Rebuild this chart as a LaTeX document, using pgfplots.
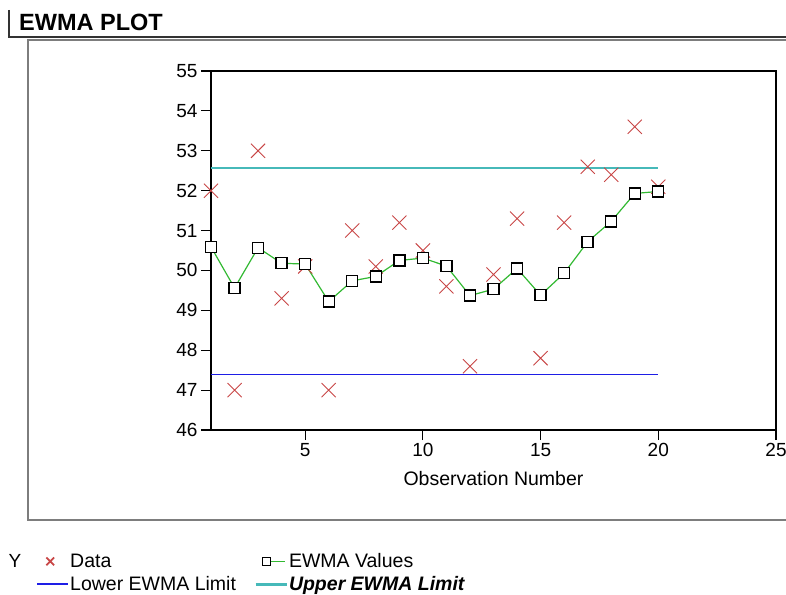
\documentclass[border=0pt]{standalone}
\usepackage{fontspec}
\setmainfont{Liberation Sans}
\usepackage{pgfplots}
\pgfplotsset{compat=1.18}
\definecolor{datared}{RGB}{200,70,70}
\definecolor{ewgreen}{RGB}{50,185,50}
\definecolor{ucyan}{RGB}{70,185,185}
\definecolor{lblue}{RGB}{30,30,230}
\definecolor{framegray}{RGB}{125,125,125}
\pgfplotsset{
  datalegend/.style={legend image code/.code={\path (0pt,0pt) (31pt,0pt); \draw[##1, mark size=5.5pt, line width=1.8pt] plot coordinates {(13pt,0pt)};}},
  ewmalegend/.style={legend image code/.code={\path (0pt,0pt) (31pt,0pt); \draw[ewgreen, line width=1.8pt] (15pt,0pt) -- (29pt,0pt); \draw[##1, mark size=4pt] plot coordinates {(11pt,0pt)};}},
  linelegend/.style={legend image code/.code={\draw[##1, line width=#1] (0pt,0pt) -- (31pt,0pt);}},
}
\begin{document}
\begin{tikzpicture}
\path[use as bounding box] (0pt,0pt) rectangle (786pt,-594pt);
% frames
\draw[black!80, line width=1.5pt] (9pt,-10pt) -- (9pt,-37pt) -- (790pt,-37pt);
\draw[framegray, line width=2pt] (790pt,-40pt) -- (28pt,-40pt) -- (28pt,-520pt) -- (790pt,-520pt);
\node[anchor=west, font=\fontsize{23.5}{26}\selectfont\bfseries, inner sep=0pt] at (19pt,-22pt) {EWMA PLOT};
\node[font=\fontsize{19}{21}\selectfont, inner sep=0pt] at (15pt,-561pt) {Y};
\begin{axis}[
  at={(211pt,-430pt)}, anchor=south west,
  scale only axis, width=565pt, height=359pt,
  xmin=1, xmax=25, ymin=46, ymax=55,
  xtick={5,10,15,20,25}, ytick={46,47,...,55},
  tick align=outside, xtick pos=left, ytick pos=left,
  major tick length=10pt,
  tick style={black, line width=1.2pt},
  axis line style={black, line width=1.5pt},
  ticklabel style={font=\fontsize{19}{21}\selectfont},
  /pgf/number format/assume math mode=true,
  xlabel={Observation Number},
  xlabel style={font=\fontsize{19.5}{22}\selectfont, at={(axis description cs:0.5,-0.134)}, anchor=center},
  clip=false,
  legend columns=2,
  legend cell align=left,
  legend style={draw=none, fill=none, at={(rel axis cs:-0.3097,-0.341)}, anchor=north west,
    font=\fontsize{19.5}{22}\selectfont, inner sep=0pt, row sep=5pt,
    nodes={inner sep=1pt},
    /tikz/column 2/.style={column sep=17pt}},
]
\addplot[only marks, mark=x, mark size=10pt, datared, line width=0.9pt, datalegend]
  coordinates {(1,52.0) (2,47.0) (3,53.0) (4,49.3) (5,50.1) (6,47.0) (7,51.0) (8,50.1) (9,51.2) (10,50.5)
  (11,49.6) (12,47.6) (13,49.9) (14,51.3) (15,47.8) (16,51.2) (17,52.6) (18,52.4) (19,53.6) (20,52.1)};
\addlegendentry{Data}
\addplot[ewgreen, line width=1.2pt, mark=square*, mark size=5.5pt,
  mark options={draw=black, fill=white, line width=1.4pt}, ewmalegend]
  coordinates {(1,50.59) (2,49.56) (3,50.57) (4,50.18) (5,50.16) (6,49.22) (7,49.74) (8,49.85) (9,50.25) (10,50.31)
  (11,50.11) (12,49.37) (13,49.53) (14,50.05) (15,49.38) (16,49.93) (17,50.72) (18,51.23) (19,51.93) (20,51.98)};
\addlegendentry{EWMA Values}
\addplot[lblue, line width=1.3pt, linelegend=2pt]
  coordinates {(1,47.40) (20,47.40)};
\addlegendentry{Lower EWMA Limit}
\addplot[ucyan, line width=2pt, linelegend=3pt]
  coordinates {(1,52.56) (20,52.56)};
\addlegendentry{\textbf{\textit{Upper EWMA Limit}}}
\end{axis}
\end{tikzpicture}
\end{document}
